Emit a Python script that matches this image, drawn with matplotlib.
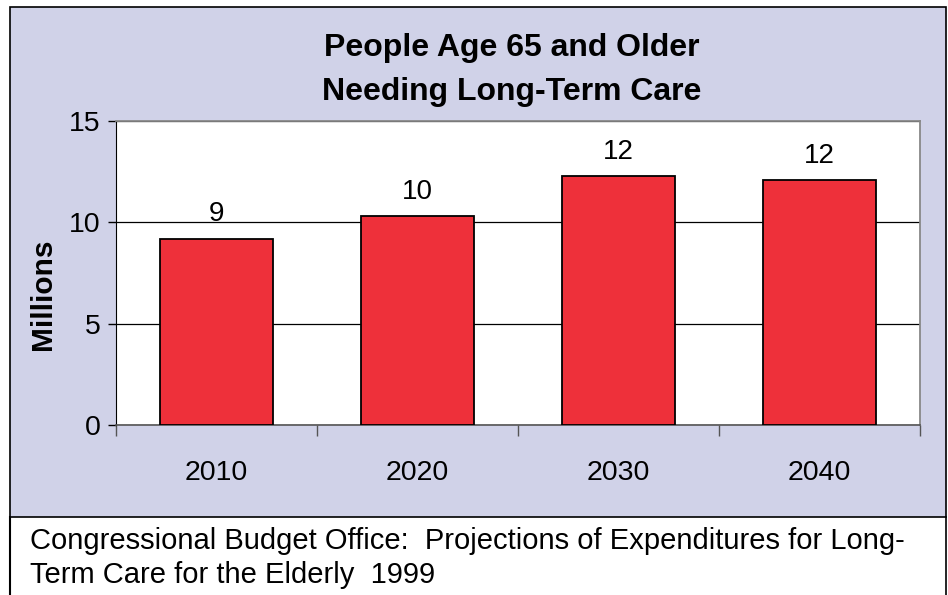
import matplotlib
matplotlib.use("Agg")
import matplotlib.pyplot as plt
from matplotlib.patches import Rectangle
from matplotlib.lines import Line2D

years = ["2010", "2020", "2030", "2040"]
people_millions = [9.2, 10.3, 12.3, 12.1]
yticks = [0, 5, 10, 15]
title = "People Age 65 and Older\nNeeding Long-Term Care"
ylabel = "Millions"
caption = ("Congressional Budget Office:  Projections of Expenditures for Long-\n"
           "Term Care for the Elderly  1999")

plt.rcParams['font.family'] = ['Liberation Sans', 'DejaVu Sans']

W, H = 948, 595
fig = plt.figure(figsize=(W / 100, H / 100), dpi=100)
fig.patch.set_facecolor("white")

# lavender chart area with border
lav = Rectangle((10 / W, (H - 517) / H), 936 / W, (517 - 7) / H, transform=fig.transFigure,
                facecolor="#D0D2E8", edgecolor="black", linewidth=1.2, zorder=-5)
fig.patches.append(lav)
# caption box side borders
fig.lines.append(Line2D([10 / W, 10 / W], [0, (H - 517) / H], transform=fig.transFigure,
                        color="black", linewidth=1.5, zorder=-5))
fig.lines.append(Line2D([946 / W, 946 / W], [0, (H - 517) / H], transform=fig.transFigure,
                        color="black", linewidth=1.2, zorder=-5))

ax = fig.add_axes([116 / W, (H - 425) / H, (920 - 116) / W, (425 - 121) / H])
ax.set_zorder(5)
ax.set_facecolor("white")
x = list(range(len(years)))
bars = ax.bar(x, people_millions, width=0.56, color="#EE303A", edgecolor="black",
              linewidth=1.3, zorder=3)
for xi, v in zip(x, people_millions):
    ax.text(xi, v + 0.55, f"{v:.0f}", ha="center", va="bottom", fontsize=20, zorder=4)

ax.set_xlim(-0.5, len(years) - 0.5)
ax.set_ylim(0, 15)
ax.set_yticks(yticks)
ax.set_yticklabels([str(t) for t in yticks], fontsize=20.5)
ax.tick_params(axis="y", length=6, width=1, pad=5)
ax.set_xticks([i - 0.5 for i in range(len(years) + 1)])
ax.set_xticklabels([])
ax.set_xticks(x, minor=True)
ax.set_xticklabels(years, minor=True, fontsize=20.5)
ax.tick_params(axis="x", which="major", length=8, width=1, direction="out", color="#555555")
ax.tick_params(axis="x", which="minor", length=0, pad=25)
ax.yaxis.grid(True, color="black", linewidth=0.9, zorder=1)
ax.set_axisbelow(True)
for s in ["top", "right"]:
    ax.spines[s].set_color("#888888")
    ax.spines[s].set_linewidth(1.3)
ax.spines["left"].set_color("black")
ax.spines["bottom"].set_color("#555555")
ax.spines["bottom"].set_linewidth(1.2)

ax.set_ylabel(ylabel, fontsize=21.5, fontweight="bold", labelpad=5)
ax.yaxis.set_label_coords(-0.074, 0.43)

fig.text(512 / W, (H - 70) / H, title, ha="center", va="center", fontsize=23,
         fontweight="bold", linespacing=1.62)

fig.text(30 / W, (H - 558) / H, caption, ha="left", va="center", fontsize=21,
         linespacing=1.3)

fig.savefig("out.png", dpi=100, facecolor=fig.get_facecolor())
